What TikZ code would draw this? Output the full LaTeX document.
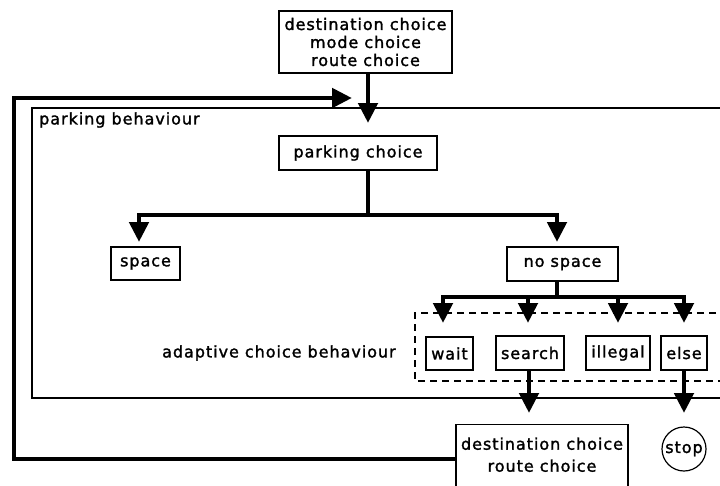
\documentclass[tikz,border=0pt]{standalone}
\usepackage{fontspec}
\setmainfont{DejaVu Sans}[LetterSpace=6,FakeBold=1.6]
\usetikzlibrary{arrows.meta}
\begin{document}
\begin{tikzpicture}[x=1pt,y=-1pt,
  txt/.style={font=\fontsize{16}{18}\selectfont},
  box/.style={txt,draw,line width=1.2pt,inner sep=0pt,align=center},
  arr/.style={line width=4.8pt,-{Triangle[width=19pt,length=20pt]}},
  thk/.style={line width=4.8pt},
  frame/.style={line width=1.2pt},
  dashframe/.style={line width=1.2pt,dash pattern=on 7pt off 5pt}]
\useasboundingbox (0,0) rectangle (720,485);
\clip (0,0) rectangle (720,485);
% frames
\draw[frame] (32,108) rectangle (740,398);
\draw[dashframe] (740,313) -- (415,313) -- (415,381) -- (740,381);
% nodes
\node[box,minimum width=173pt,minimum height=62pt] (top) at (365.5,42) {destination choice\\mode choice\\route choice};
\node[box,minimum width=158pt,minimum height=34pt] (pc) at (358,153) {parking choice};
\node[box,minimum width=69pt,minimum height=33pt] (space) at (145.5,263.5) {space};
\node[box,minimum width=111pt,minimum height=34pt] (ns) at (562.5,264) {no space};
\node[box,minimum width=47pt,minimum height=33pt] (wait) at (449.5,353.5) {wait};
\node[box,minimum width=68pt,minimum height=34pt] (search) at (530,353) {search};
\node[box,minimum width=64pt,minimum height=34pt] (illegal) at (618,353) {illegal};
\node[box,minimum width=46pt,minimum height=34pt] (else) at (684,353) {else};
\node[box,minimum width=172pt,minimum height=64pt,anchor=north] (dest2) at (542,424) {destination choice\\[4pt]route choice\rule[-4pt]{0pt}{1pt}};
\node[box,circle,minimum size=44pt] (stop) at (684,449) {stop};
\node[txt,anchor=west,inner sep=0pt] (pbl) at (39,120) {parking behaviour};
\node[txt,anchor=west,inner sep=0pt] (acl) at (162,353) {adaptive choice behaviour};
% connectors
\coordinate (a0) at (368,123);
\draw[arr] (top.south -| a0) -- (a0);
\coordinate (fb) at (14,459);
\coordinate (fbe) at (352,98);
\draw[arr] (dest2.west |- fb) -- (fb) |- (fbe);
\coordinate (j1) at (368,215);
\coordinate (sa) at (139,242);
\coordinate (na) at (557,242);
\draw[thk] (pc.south -| j1) -- (j1);
\draw[arr] (j1) -| (sa);
\draw[arr] (j1) -| (na);
\coordinate (j2) at (557,297);
\coordinate (wa) at (443,323);
\coordinate (sea) at (528,323);
\coordinate (ila) at (618,323);
\coordinate (ela) at (684,323);
\draw[thk] (ns.south -| j2) -- (j2);
\draw[arr] (j2) -| (wa);
\draw[arr] (j2) -| (sea);
\draw[arr] (j2) -| (ila);
\draw[arr] (j2) -| (ela);
\coordinate (sd) at (529,413);
\coordinate (ed) at (684,413);
\draw[arr] (search.south -| sd) -- (sd);
\draw[arr] (else.south) -- (ed);
\end{tikzpicture}
\end{document}
